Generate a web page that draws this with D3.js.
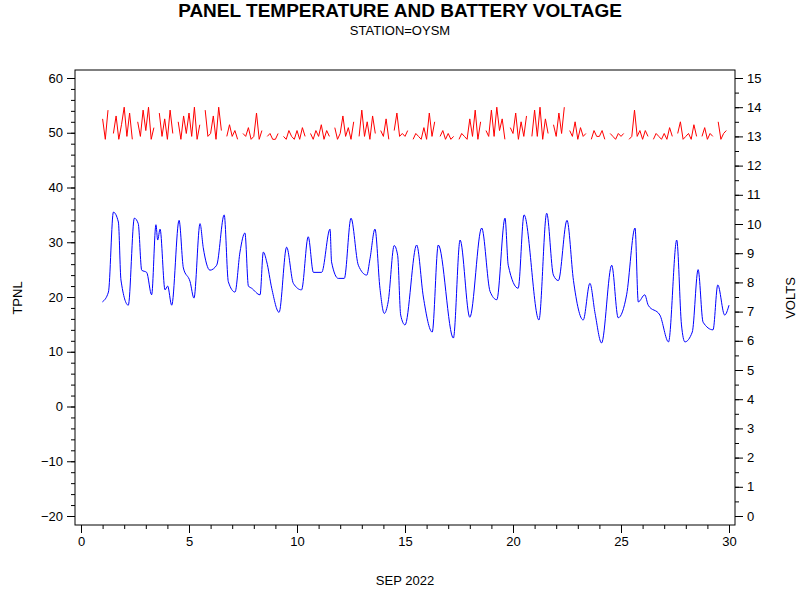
<!DOCTYPE html>
<html><head><meta charset="utf-8">
<script src="https://cdn.jsdelivr.net/npm/d3@7"></script>
<style>body{margin:0;background:#fff}svg{font-family:"Liberation Sans",Arial,sans-serif}</style>
</head><body><div id="chart"></div>
<script>
// temperature (TPNL): day of month, degrees
const tempDay = [0.99,1.27,1.5,1.73,1.85,2.19,2.47,2.65,2.81,3.04,3.27,3.47,3.55,3.66,3.89,4.01,4.2,4.54,4.74,5.05,5.23,5.51,5.66,5.97,6.28,6.63,6.82,7.13,7.36,7.59,7.75,7.9,8.29,8.44,8.6,8.83,9.17,9.52,9.83,10.21,10.52,10.76,11.14,11.53,11.6,11.91,12.19,12.5,12.84,13.23,13.38,13.61,13.84,14.04,14.22,14.5,14.66,14.8,15.0,15.54,15.85,16.26,16.54,17.24,17.55,18.0,18.55,18.94,19.25,19.63,19.78,20.24,20.51,21.2,21.56,21.87,22.1,22.5,22.8,23.25,23.56,23.8,24.1,24.57,24.87,25.26,25.65,25.8,26.1,26.26,26.8,27.2,27.58,27.8,27.96,28.3,28.57,28.8,29.26,29.48,29.8,30.0];
const tempVal = [19.1,20.9,35.5,33.7,23.1,18.5,34.4,33.4,24.9,24.5,20.4,33.2,30.4,32.4,21.3,22,18.5,34,25.3,22.8,19.8,33.4,29,24.9,25.8,35,22.8,20.9,28.2,31.7,22,21.6,20.4,28.2,26.4,21.6,17.2,29.1,22.5,21.3,31,24.5,24.5,32.4,26.4,23.4,23.4,34.4,25.8,24,27,32.4,21.6,17,19.1,29.4,27.6,16.7,14.9,29.5,20,13.6,29.5,12.5,30.4,16.3,32.6,21,19.5,34.4,25.8,21.6,35,15.8,35.3,24,23,34,23,15.8,22.5,17,11.6,25.8,16.2,20.4,32.6,19.1,20.4,18.5,16.7,11.8,30.4,14.9,11.8,13.6,25,15.4,14,22.2,16.7,18.5];

// battery voltage, 3-hourly from day 1, null = missing reading
const voltStart = 1, voltStep = 0.125;
const voltVal = [
 13.6,12.9,13.9,null,13.1,13.7,12.9,13.4, 14.0,13.0,13.8,12.9,null,13.5,13.0,13.9,
 13.2,14.0,12.9,13.3,null,13.8,13.0,13.6, 12.9,13.9,13.1,null,13.5,12.9,13.7,13.1,
 13.8,13.0,14.0,12.9,13.4,null,13.9,13.0, 13.1,13.7,12.9,14.0,13.2,null,13.0,13.4,
 13.0,13.2,12.9,null,13.1,13.0,13.3,12.9, 13.0,13.8,12.9,13.2,null,13.0,13.1,12.9,
 12.9,13.1,null,13.0,12.9,13.2,13.0,12.9, 13.2,12.9,13.3,13.0,null,13.1,12.9,13.2,
 13.0,13.4,12.9,13.2,13.0,null,13.3,12.9, 13.1,13.7,13.0,13.3,12.9,13.5,null,13.0,
 13.9,13.0,13.5,12.9,13.7,13.1,null,13.2, 13.0,13.6,12.9,null,13.2,13.8,13.0,13.1,
 13.0,13.2,null,12.9,13.1,13.0,12.9,13.3, 12.9,13.8,13.0,13.5,null,13.0,13.2,12.9,
 13.1,12.9,13.0,null,12.9,13.1,13.0,12.9, 13.6,13.0,13.9,12.9,13.5,null,13.2,13.0,
 13.9,13.0,14.0,13.2,13.6,12.9,null,13.3, 13.1,13.8,12.9,13.5,13.0,13.7,null,13.0,
 13.9,13.0,14.0,12.9,13.6,13.1,null,13.4, 13.0,13.8,13.1,14.0,null,13.2,13.0,13.5,
 12.9,13.3,13.0,13.1,null,12.9,13.2,13.0, 13.0,13.2,12.9,null,13.1,13.0,12.9,13.1,
 13.0,13.1,null,12.9,13.0,13.9,13.0,13.2, 12.9,13.2,13.0,null,12.9,13.1,13.0,12.9,
 13.1,12.9,13.3,13.0,null,13.1,13.5,12.9, 13.0,13.1,12.9,13.4,13.0,null,13.0,13.3,
 12.9,13.1,13.0,null,13.5,12.9,13.1,13.2
];

const xTicks = [0,5,10,15,20,25,30];
const leftTicks = [-20,-10,0,10,20,30,40,50,60];
const rightTicks = d3.range(0,16);

const W = 800, H = 600, L = 75, R = 735, T = 70, B = 525;
const svg = d3.select("#chart").append("svg").attr("width", W).attr("height", H);

const x = d3.scaleLinear().domain([0,30]).range([81,729]);
const yL = d3.scaleLinear().domain([-20,60]).range([516,78]);
const yR = d3.scaleLinear().domain([0,15]).range([516,78]);

svg.append("rect").attr("x",L).attr("y",T).attr("width",R-L).attr("height",B-T)
  .attr("fill","none").attr("stroke","#000");

function styleAxis(g){ g.selectAll(".domain").remove(); g.selectAll("text").attr("font-size",13).attr("fill","#000").attr("font-family","Liberation Sans, Arial"); g.selectAll("line").attr("stroke","#000"); }

svg.append("g").attr("transform",`translate(0,${B})`)
  .call(d3.axisBottom(x).tickValues(d3.range(0,31)).tickFormat("").tickSize(4)).call(styleAxis);
svg.append("g").attr("transform",`translate(0,${B})`)
  .call(d3.axisBottom(x).tickValues(xTicks).tickFormat(d3.format("d")).tickSize(8).tickPadding(4)).call(styleAxis);

svg.append("g").attr("transform",`translate(${L},0)`)
  .call(d3.axisLeft(yL).tickValues(d3.range(-20,61,2)).tickFormat("").tickSize(4)).call(styleAxis);
svg.append("g").attr("transform",`translate(${L},0)`)
  .call(d3.axisLeft(yL).tickValues(leftTicks).tickFormat(d3.format("d")).tickSize(8).tickPadding(4)).call(styleAxis);

svg.append("g").attr("transform",`translate(${R},0)`)
  .call(d3.axisRight(yR).tickValues(d3.range(0,15.01,0.5)).tickFormat("").tickSize(4)).call(styleAxis);
svg.append("g").attr("transform",`translate(${R},0)`)
  .call(d3.axisRight(yR).tickValues(rightTicks).tickFormat(d3.format("d")).tickSize(8).tickPadding(4)).call(styleAxis);

const plot = svg.append("g");
const temps = tempDay.map((d,i)=>({d, v:tempVal[i]}));
plot.append("path").datum(temps).attr("fill","none").attr("stroke","#0000ff").attr("stroke-width",1)
  .attr("d", d3.line().x(p=>x(p.d)).y(p=>yL(p.v)).curve(d3.curveMonotoneX));

const volts = voltVal.map((v,i)=>({d: voltStart + i*voltStep, v}));
plot.append("path").datum(volts).attr("fill","none").attr("stroke","#ff0000").attr("stroke-width",1)
  .attr("d", d3.line().defined(p=>p.v!==null).x(p=>x(p.d)).y(p=>yR(p.v)));

svg.append("text").attr("x",400).attr("y",17).attr("text-anchor","middle")
  .attr("font-size",19).attr("font-weight","bold").text("PANEL TEMPERATURE AND BATTERY VOLTAGE");
svg.append("text").attr("x",400).attr("y",35).attr("text-anchor","middle")
  .attr("font-size",13).text("STATION=OYSM");
svg.append("text").attr("x",405).attr("y",585).attr("text-anchor","middle")
  .attr("font-size",13).text("SEP 2022");
svg.append("text").attr("transform","translate(22,298) rotate(-90)").attr("text-anchor","middle")
  .attr("font-size",13).text("TPNL");
svg.append("text").attr("transform","translate(795,298) rotate(-90)").attr("text-anchor","middle")
  .attr("font-size",13).text("VOLTS");
</script></body></html>
